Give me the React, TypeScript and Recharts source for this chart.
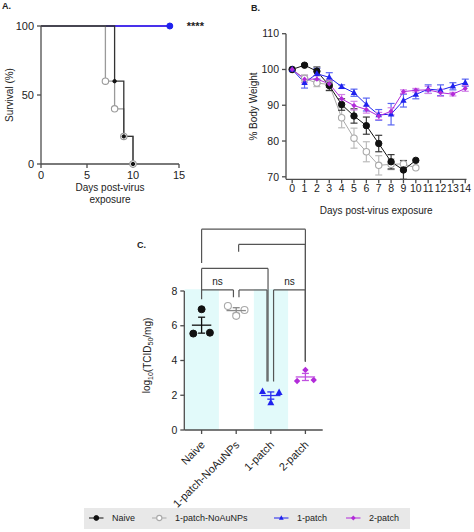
import React from "react";
import {
  LineChart,
  Line,
  XAxis,
  YAxis,
  ErrorBar,
  ScatterChart,
  Scatter,
  ReferenceArea,
  ReferenceLine,
  ReferenceDot,
} from "recharts";

const FONT = '"Liberation Sans", Arial, Helvetica, sans-serif';
const AXIS = "#4d4d4d";
const INK = "#222";

// ---- groups ----
const GROUPS = ["Naive", "1-patch-NoAuNPs", "1-patch", "2-patch"];

// ---- A: survival ----
const SURV_NAIVE_DAYS = [0, 8, 9, 10];
const SURV_NAIVE = [100, 60, 20, 0];
const SURV_NOAU_DAYS = [0, 7, 8, 9, 10];
const SURV_NOAU = [100, 60, 40, 20, 0];
const SURV_PATCH_DAYS = [0, 14];
const SURV_1P = [100, 100];
const SURV_2P = [100, 100];
const SURV_STARS = "****";

// ---- B: body weight ----
const DAYS = [0, 1, 2, 3, 4, 5, 6, 7, 8, 9, 10, 11, 12, 13, 14];
const BW_NAIVE = [100, 101.2, 99.5, 95.5, 90.2, 87.0, 84.3, 79.3, 74.2, 71.9, 74.6];
const BW_NAIVE_SEM = [0, 0.3, 1.2, 1.4, 1.6, 2.0, 2.4, 2.3, 2.0, 2.6, 0];
const BW_NOAU = [100, 97.5, 96.2, 95.8, 86.5, 80.8, 77.0, 73.2, 73.5, 73.6, 72.5];
const BW_NOAU_SEM = [0, 1.0, 1.0, 1.5, 2.8, 2.8, 2.8, 2.7, 1.5, 1.0, 0];
const BW_1P = [100, 96.3, 98.8, 97.8, 95.2, 93.5, 90.2, 87.3, 87.5, 91.3, 93.0, 94.5, 94.2, 95.3, 96.3];
const BW_1P_SEM = [0, 1.5, 1.5, 1.3, 0.5, 1.0, 1.8, 1.5, 3.0, 1.8, 1.2, 1.2, 1.5, 1.0, 1.0];
const BW_2P = [100, 97.3, 97.3, 96.0, 91.8, 89.9, 88.8, 87.0, 88.3, 93.8, 94.2, 94.3, 93.5, 93.1, 94.7];
const BW_2P_SEM = [0, 1.0, 1.0, 1.0, 1.2, 1.2, 1.0, 1.0, 1.0, 0.5, 0.5, 1.0, 1.0, 0.5, 0.8];

// ---- C: lung titres (left, centre, right replicate) ----
const TITER_NAIVE = [5.55, 6.95, 5.6];
const TITER_NOAU = [7.14, 6.57, 6.91];
const TITER_1P = [2.22, 1.57, 2.16];
const TITER_2P = [2.82, 3.46, 2.88];
const COMPARISONS = [
  { a: 0, b: 1, label: "ns" },
  { a: 1, b: 2, label: "" },
  { a: 2, b: 3, label: "ns" },
  { a: 0, b: 2, label: "" },
  { a: 1, b: 3, label: "" },
  { a: 0, b: 3, label: "" },
];

// layout / style only
const JITTER = [-0.24, 0, 0.24];
const BRACKETS = [
  { y: 8.06, inA: 0, inB: 0.08, legA: 7.53, legB: 7.64 },
  { y: 8.06, inA: 0.08, inB: 0.11, legA: 7.64, legB: 2.79 },
  { y: 8.06, inA: 0.08, inB: 0, legA: 2.79, legB: 3.94 },
  { y: 9.3, inA: 0, inB: 0.08, legA: 8.06, legB: 2.79 },
  { y: 10.68, inA: 0.07, inB: 0, legA: 10.26, legB: 3.94 },
  { y: 11.56, inA: 0, inB: 0, legA: 9.61, legB: 3.94 },
];
const SHADED = [0, 2];

const STYLES = [
  { line: "#111", err: "#3a3a3a", mean: "#111", marker: "dot" },
  { line: "#a9a9a9", err: "#bcbcbc", mean: "#8a8a8a", marker: "open" },
  { line: "#1f22ee", err: "#5a66f2", mean: "#2a2ff0", marker: "tri" },
  { line: "#b22bd9", err: "#d283e8", mean: "#c050e0", marker: "diamond" },
];

type MarkerProps = { cx?: number; cy?: number; kind: string; color: string; s?: number };

function Marker({ cx, cy, kind, color, s = 3 }: MarkerProps) {
  if (cx == null || cy == null || isNaN(cx) || isNaN(cy)) return null;
  if (kind === "dot") return <circle cx={cx} cy={cy} r={s} fill={color} stroke={color} />;
  if (kind === "open")
    return <circle cx={cx} cy={cy} r={s} fill="#fff" stroke={color} strokeWidth={1.1} />;
  if (kind === "tri")
    return (
      <path
        d={`M${cx},${cy - s * 1.15} L${cx + s},${cy + s * 0.7} L${cx - s},${cy + s * 0.7} Z`}
        fill={color}
      />
    );
  return (
    <path
      d={`M${cx},${cy - s} L${cx + s},${cy} L${cx},${cy + s} L${cx - s},${cy} Z`}
      fill={color}
    />
  );
}

const axisProps = {
  axisLine: { stroke: AXIS, strokeWidth: 1.3 },
  tickLine: { stroke: AXIS, strokeWidth: 1.3 },
  tickSize: 4,
};

function YTitle(props: any) {
  const vb = props.viewBox || { x: 0, y: 0, width: 0, height: 0 };
  const cx = vb.x + props.dx;
  const cy = vb.y + vb.height / 2 + (props.dy || 0);
  return (
    <text
      x={cx}
      y={cy}
      transform={`rotate(-90, ${cx}, ${cy})`}
      textAnchor="middle"
      dominantBaseline="central"
      fontSize={props.size}
      fontFamily={FONT}
      fill={INK}
    >
      {props.children}
    </text>
  );
}

function XTitle(props: any) {
  const vb = props.viewBox || { x: 0, y: 0, width: 0, height: 0 };
  const cx = vb.x + vb.width / 2;
  return (
    <text x={cx} y={vb.y + props.dy} textAnchor="middle" fontSize={props.size} fontFamily={FONT} fill={INK}>
      {props.lines.map((t: string, i: number) => (
        <tspan key={i} x={cx} dy={i === 0 ? 0 : 12}>
          {t}
        </tspan>
      ))}
    </text>
  );
}

const toPts = (xs: number[], ys: number[]) => xs.map((x, i) => ({ x, y: ys[i] }));

function SurvivalPanel() {
  const series = [
    { pts: toPts(SURV_PATCH_DAYS, SURV_2P), st: STYLES[3], s: 3 },
    { pts: toPts(SURV_PATCH_DAYS, SURV_1P), st: STYLES[2], s: 3, circle: true },
    { pts: toPts(SURV_NOAU_DAYS, SURV_NOAU), st: STYLES[1], s: 3.2 },
    { pts: toPts(SURV_NAIVE_DAYS, SURV_NAIVE), st: STYLES[0], s: 1.7 },
  ];
  return (
    <LineChart width={230} height={212} margin={{ top: 26, right: 51, left: 11, bottom: 18 }}>
      <XAxis
        type="number"
        dataKey="x"
        domain={[0, 15]}
        ticks={[0, 5, 10, 15]}
        height={30}
        tickMargin={3}
        tick={{ fill: INK, fontSize: 11, fontFamily: FONT }}
        {...axisProps}
        label={(p: any) => <XTitle {...p} dy={27} size={10} lines={["Days post-virus", "exposure"]} />}
      />
      <YAxis
        type="number"
        domain={[0, 100]}
        ticks={[0, 50, 100]}
        width={30}
        tickMargin={3}
        tick={{ fill: INK, fontSize: 11, fontFamily: FONT }}
        {...axisProps}
        label={(p: any) => (
          <YTitle {...p} dx={-2} size={10}>
            Survival (%)
          </YTitle>
        )}
      />
      {series.map((sr, k) => (
        <Line
          key={k}
          data={sr.pts}
          dataKey="y"
          type="stepAfter"
          stroke={k < 2 ? sr.st.line : k === 3 ? "#333" : "#9a9a9a"}
          strokeWidth={1.3}
          isAnimationActive={false}
          dot={(p: any) =>
            p.index === 0 ? (
              <g key={p.index} />
            ) : (
              <Marker
                key={p.index}
                cx={p.cx}
                cy={p.cy}
                kind={sr.circle ? "dot" : sr.st.marker}
                color={k === 2 ? "#9a9a9a" : sr.st.line}
                s={sr.s}
              />
            )
          }
          activeDot={false}
        />
      ))}
      <ReferenceDot
        x={14}
        y={100}
        r={0}
        ifOverflow="visible"
        label={{ value: SURV_STARS, position: "right", offset: 17, fontSize: 11, fontWeight: 700, fill: INK, fontFamily: FONT }}
      />
    </LineChart>
  );
}

const rows = (vals: number[], sems: number[]) => vals.map((v, i) => ({ day: DAYS[i], v, e: sems[i] }));

function WeightPanel() {
  const series = [
    { data: rows(BW_NOAU, BW_NOAU_SEM), st: STYLES[1], s: 3.2 },
    { data: rows(BW_NAIVE, BW_NAIVE_SEM), st: STYLES[0], s: 3.2 },
    { data: rows(BW_1P, BW_1P_SEM), st: STYLES[2], s: 3.2 },
    { data: rows(BW_2P, BW_2P_SEM), st: STYLES[3], s: 2.6 },
  ];
  return (
    <LineChart width={244} height={222} margin={{ top: 33.7, right: 7.5, left: 20, bottom: 12.7 }}>
      <XAxis
        type="number"
        dataKey="day"
        domain={[-0.5, 14.1]}
        ticks={DAYS}
        interval={0}
        height={30}
        tickMargin={1}
        tick={{ fill: INK, fontSize: 10.5, fontFamily: FONT }}
        {...axisProps}
        label={(p: any) => <XTitle {...p} dy={35} size={10} lines={["Days post-virus exposure"]} />}
      />
      <YAxis
        type="number"
        domain={[70, 110]}
        ticks={[70, 80, 90, 100, 110]}
        width={36}
        tickMargin={3}
        tick={{ fill: INK, fontSize: 10.5, fontFamily: FONT }}
        {...axisProps}
        label={(p: any) => (
          <YTitle {...p} dx={3.3} size={10}>
            % Body Weight
          </YTitle>
        )}
      />
      {series.map((sr, k) => (
        <Line
          key={k}
          data={sr.data}
          dataKey="v"
          stroke={sr.st.line}
          strokeWidth={1}
          isAnimationActive={false}
          activeDot={false}
          dot={(p: any) => <Marker key={p.index} cx={p.cx} cy={p.cy} kind={sr.st.marker} color={sr.st.line} s={sr.s} />}
        >
          <ErrorBar dataKey="e" direction="y" width={3.5} stroke={sr.st.err} strokeWidth={1.2} isAnimationActive={false} />
        </Line>
      ))}
    </LineChart>
  );
}

const mean = (a: number[]) => a.reduce((s, v) => s + v, 0) / a.length;
const sem = (a: number[]) => {
  const m = mean(a);
  const sd = Math.sqrt(a.reduce((s, v) => s + (v - m) ** 2, 0) / (a.length - 1));
  return sd / Math.sqrt(a.length);
};

function RotTick(props: any) {
  const { x, y, payload } = props;
  return (
    <g transform={`translate(${x + 4},${y + 9.5})`}>
      <text textAnchor="end" transform="rotate(-45)" fontSize={11} fontFamily={FONT} fill={INK}>
        {GROUPS[payload.value]}
      </text>
    </g>
  );
}

function TiterPanel() {
  const groups = [TITER_NAIVE, TITER_NOAU, TITER_1P, TITER_2P];
  return (
    <ScatterChart width={200} height={305} margin={{ top: 71, right: 7.3, left: 14.3, bottom: 10 }}>
      <XAxis
        type="number"
        dataKey="x"
        domain={[-0.5, 3.5]}
        ticks={[0, 1, 2, 3]}
        interval={0}
        height={85}
        tickMargin={2}
        tick={<RotTick />}
        {...axisProps}
      />
      <YAxis
        type="number"
        dataKey="y"
        domain={[0, 8]}
        ticks={[0, 2, 4, 6, 8]}
        width={40}
        tickMargin={3}
        tick={{ fill: INK, fontSize: 10.5, fontFamily: FONT }}
        {...axisProps}
        label={(p: any) => (
          <YTitle {...p} dx={2.5} dy={-5} size={10}>
            log
            <tspan fontSize={7} dy={3}>
              10
            </tspan>
            <tspan dy={-3}>(TCID</tspan>
            <tspan fontSize={7} dy={3}>
              50
            </tspan>
            <tspan dy={-3}>/mg)</tspan>
          </YTitle>
        )}
      />
      {SHADED.map((g) => (
        <ReferenceArea key={g} x1={g - 0.49} x2={g + 0.5} y1={0} y2={8.1} fill="#e2fafa" fillOpacity={1} stroke="none" ifOverflow="visible" />
      ))}
      {COMPARISONS.map((c, i) => {
        const L = BRACKETS[i];
        const x1 = c.a + L.inA;
        const x2 = c.b - L.inB;
        const st = { stroke: "#555", strokeWidth: 1.2, ifOverflow: "visible" as const };
        return (
          <React.Fragment key={i}>
            <ReferenceLine {...st} segment={[{ x: x1, y: L.legA }, { x: x1, y: L.y }]} />
            <ReferenceLine {...st} segment={[{ x: x1, y: L.y }, { x: x2, y: L.y }]} />
            <ReferenceLine {...st} segment={[{ x: x2, y: L.y }, { x: x2, y: L.legB }]} />
            {c.label && (
              <ReferenceDot
                x={(x1 + x2) / 2}
                y={L.y}
                r={0}
                ifOverflow="visible"
                label={{ value: c.label, position: "top", offset: 5, fontSize: 10, fill: INK, fontFamily: FONT }}
              />
            )}
          </React.Fragment>
        );
      })}
      {groups.map((vals, g) => (
        <Scatter
          key={`p${g}`}
          data={vals.map((v, j) => ({ x: g + JITTER[j], y: v }))}
          isAnimationActive={false}
          shape={(p: any) => <Marker cx={p.cx} cy={p.cy} kind={STYLES[g].marker} color={STYLES[g].line} s={g === 3 ? 3.2 : 3.5} />}
        />
      ))}
      {groups.map((vals, g) => (
        <Scatter
          key={`m${g}`}
          data={[{ x: g, y: mean(vals), e: sem(vals) }]}
          isAnimationActive={false}
          shape={(p: any) => (
            <line x1={p.cx - 9.7} x2={p.cx + 9.7} y1={p.cy} y2={p.cy} stroke={STYLES[g].mean} strokeWidth={1.3} />
          )}
        >
          <ErrorBar dataKey="e" direction="y" width={3.5} stroke={STYLES[g].mean} strokeWidth={1.3} isAnimationActive={false} />
        </Scatter>
      ))}
    </ScatterChart>
  );
}

function LegendIcon({ g }: { g: number }) {
  const st = STYLES[g];
  return (
    <svg width={15} height={10} style={{ display: "block" }}>
      <line x1={0} x2={14.5} y1={5} y2={5} stroke={st.line} strokeWidth={1} />
      <Marker cx={7.3} cy={5} kind={st.marker} color={st.line} s={g === 1 ? 2.6 : 2.4} />
    </svg>
  );
}

const LEGEND_COLS = [63, 122, 72, 60];

function FigureLegend() {
  return (
    <div
      style={{
        position: "absolute",
        left: 84,
        top: 508,
        width: 326,
        height: 21,
        background: "#e8e8e8",
        display: "flex",
        alignItems: "center",
        paddingLeft: 5,
        boxSizing: "border-box",
        fontFamily: FONT,
        fontSize: 9,
        color: INK,
      }}
    >
      {GROUPS.map((name, g) => (
        <div key={name} style={{ width: LEGEND_COLS[g], display: "flex", alignItems: "center", marginTop: -2 }}>
          <LegendIcon g={g} />
          <span style={{ marginLeft: 8, whiteSpace: "nowrap" }}>{name}</span>
        </div>
      ))}
    </div>
  );
}

const tag = (t: string, left: number, top: number) => (
  <div style={{ position: "absolute", left, top, fontFamily: FONT, fontWeight: 700, fontSize: 9, lineHeight: "9px", color: INK }}>
    {t}
  </div>
);

export default function App() {
  return (
    <div style={{ position: "absolute", left: 0, top: 0, width: 474, height: 532, background: "#fff", overflow: "hidden" }}>
      {tag("A.", 2, 2)}
      {tag("B.", 251, 4)}
      {tag("C.", 137, 240.5)}
      <div style={{ position: "absolute", left: 0, top: 0 }}>
        <SurvivalPanel />
      </div>
      <div style={{ position: "absolute", left: 230, top: 0 }}>
        <WeightPanel />
      </div>
      <div style={{ position: "absolute", left: 130, top: 220 }}>
        <TiterPanel />
      </div>
      <FigureLegend />
    </div>
  );
}
